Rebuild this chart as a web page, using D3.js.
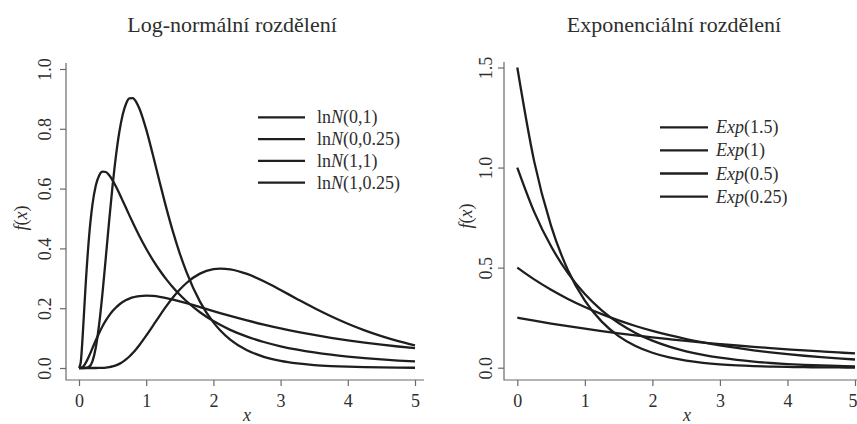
<!DOCTYPE html>
<html>
<head>
<meta charset="utf-8">
<script src="https://cdn.jsdelivr.net/npm/d3@7"></script>
<style>
  html, body { margin: 0; padding: 0; background: #fff; }
  svg { display: block; font-family: "Liberation Serif", "Times New Roman", serif; }
</style>
</head>
<body>
<svg id="chart" width="857" height="424"></svg>
<script>
// ---- Log-normal densities, sampled on a common x grid ----
const lnX = [0, 0.025, 0.05, 0.075, 0.1, 0.15, 0.2, 0.25, 0.3, 0.35, 0.4, 0.45, 0.5, 0.55, 0.6, 0.65,
  0.7, 0.75, 0.8, 0.85, 0.9, 1.0, 1.1, 1.2, 1.3, 1.4, 1.5, 1.6, 1.8, 2.0, 2.1, 2.25, 2.5, 2.75, 3.0,
  3.25, 3.5, 3.75, 4.0, 4.25, 4.5, 4.75, 5.0];
const lnN_0_1 = [0, 0.0177, 0.0898, 0.1857, 0.2816, 0.4398, 0.5463, 0.6105, 0.6442, 0.6569, 0.6555,
  0.6445, 0.6275, 0.6067, 0.5836, 0.5594, 0.5348, 0.5104, 0.4864, 0.4632, 0.4408, 0.3989, 0.3610,
  0.3270, 0.2965, 0.2693, 0.2450, 0.2233, 0.1865, 0.1569, 0.1443, 0.1276, 0.1049, 0.0870, 0.0727,
  0.0613, 0.0520, 0.0444, 0.0382, 0.0330, 0.0286, 0.0250, 0.0219];
const lnN_0_025 = [0, 0, 0, 0, 0.0002, 0.0040, 0.0224, 0.0684, 0.1465, 0.2515, 0.3721, 0.4953, 0.6105,
  0.7098, 0.7891, 0.8469, 0.8838, 0.9016, 0.9028, 0.8904, 0.8671, 0.7979, 0.7123, 0.6221, 0.5348,
  0.4544, 0.3829, 0.3206, 0.2221, 0.1526, 0.1264, 0.0952, 0.0595, 0.0375, 0.0238, 0.0153, 0.0099,
  0.0065, 0.0043, 0.0029, 0.0019, 0.0013, 0.0009];
const lnN_1_1 = [0, 0.0003, 0.0027, 0.0085, 0.0171, 0.0400, 0.0663, 0.0926, 0.1172, 0.1395, 0.1590,
  0.1759, 0.1903, 0.2024, 0.2124, 0.2205, 0.2271, 0.2322, 0.2360, 0.2388, 0.2406, 0.2420, 0.2409,
  0.2380, 0.2338, 0.2287, 0.2229, 0.2167, 0.2036, 0.1903, 0.1838, 0.1742, 0.1590, 0.1451, 0.1323,
  0.1208, 0.1104, 0.1010, 0.0926, 0.0850, 0.0781, 0.0719, 0.0663];
const lnN_1_025 = [0, 0, 0, 0, 0, 0, 0, 0, 0.0002, 0.0005, 0.0013, 0.0028, 0.0052, 0.0088, 0.0138,
  0.0205, 0.0287, 0.0386, 0.0501, 0.0629, 0.0770, 0.1080, 0.1411, 0.1746, 0.2067, 0.2363, 0.2623,
  0.2843, 0.3156, 0.3305, 0.3326, 0.3302, 0.3147, 0.2901, 0.2608, 0.2303, 0.2006, 0.1730, 0.1480,
  0.1259, 0.1067, 0.0901, 0.0759];
const lnLabels = [["ln", "N", "(0,1)"], ["ln", "N", "(0,0.25)"], ["ln", "N", "(1,1)"], ["ln", "N", "(1,0.25)"]];
const lnYTicks = [0, 0.2, 0.4, 0.6, 0.8, 1.0];

// ---- Exponential densities ----
const expX = [0, 0.25, 0.5, 0.75, 1.0, 1.25, 1.5, 1.75, 2.0, 2.25, 2.5, 2.75, 3.0, 3.25, 3.5, 3.75,
  4.0, 4.25, 4.5, 4.75, 5.0];
const exp_15 = [1.5, 1.0309, 0.7086, 0.4870, 0.3347, 0.2300, 0.1581, 0.1087, 0.0747, 0.0513, 0.0353,
  0.0243, 0.0167, 0.0115, 0.0079, 0.0054, 0.0037, 0.0026, 0.0018, 0.0012, 0.0008];
const exp_1 = [1.0, 0.7788, 0.6065, 0.4724, 0.3679, 0.2865, 0.2231, 0.1738, 0.1353, 0.1054, 0.0821,
  0.0639, 0.0498, 0.0388, 0.0302, 0.0235, 0.0183, 0.0143, 0.0111, 0.0087, 0.0067];
const exp_05 = [0.5, 0.4412, 0.3894, 0.3436, 0.3033, 0.2676, 0.2362, 0.2084, 0.1839, 0.1623, 0.1433,
  0.1264, 0.1116, 0.0985, 0.0869, 0.0767, 0.0677, 0.0597, 0.0527, 0.0465, 0.0410];
const exp_025 = [0.25, 0.2349, 0.2206, 0.2073, 0.1947, 0.1829, 0.1718, 0.1614, 0.1516, 0.1425, 0.1338,
  0.1257, 0.1181, 0.1109, 0.1042, 0.0979, 0.0920, 0.0864, 0.0812, 0.0763, 0.0716];
const expLabels = [["Exp", "(1.5)"], ["Exp", "(1)"], ["Exp", "(0.5)"], ["Exp", "(0.25)"]];
const expYTicks = [0, 0.5, 1.0, 1.5];

const xTicks = [0, 1, 2, 3, 4, 5];

const svg = d3.select("#chart");
const INK = "#1e1e1e";
const TEXT = "#2e2e2e";
const AXIS = "#6a6a6a";
const W = 857;

function panel(cfg) {
  const g = svg.append("g");
  const x = d3.scaleLinear().domain([0, 5]).range(cfg.xRange);
  const y = d3.scaleLinear().domain([0, cfg.yMax]).range(cfg.yRange);

  // L-shaped frame
  g.append("path")
    .attr("d", `M${cfg.box.left},${cfg.box.top}V${cfg.box.bottom}H${cfg.box.right}`)
    .attr("fill", "none").attr("stroke", AXIS).attr("stroke-width", 1.2);

  // x axis ticks + labels
  const xa = d3.axisBottom(x).tickValues(xTicks).tickFormat(d3.format("d")).tickSize(6).tickPadding(4);
  const gx = g.append("g").attr("transform", `translate(0,${cfg.box.bottom})`).call(xa);
  gx.select(".domain").remove();
  gx.selectAll(".tick line").attr("stroke", AXIS).attr("stroke-width", 1.2);
  gx.selectAll(".tick text").attr("fill", TEXT).attr("font-size", 18)
    .attr("font-family", "Liberation Serif").attr("dy", "0.95em");
  // keep a label that would run past the right edge inside the page
  gx.selectAll(".tick").each(function (d) {
    const px = x(d);
    if (px + 5 > W) {
      d3.select(this).select("text").attr("text-anchor", "end").attr("x", W - px);
    }
  });

  // y axis ticks + rotated labels
  const ya = d3.axisLeft(y).tickValues(cfg.yTicks).tickFormat(d3.format(".1f")).tickSize(6).tickPadding(0);
  const gy = g.append("g").attr("transform", `translate(${cfg.box.left},0)`).call(ya);
  gy.select(".domain").remove();
  gy.selectAll(".tick line").attr("stroke", AXIS).attr("stroke-width", 1.2);
  gy.selectAll(".tick text").attr("fill", TEXT).attr("font-size", 18)
    .attr("font-family", "Liberation Serif")
    .attr("x", null).attr("dy", null)
    .attr("text-anchor", "middle")
    .attr("transform", `translate(${cfg.yLabelX - cfg.box.left},0) rotate(-90)`)
    .attr("dominant-baseline", "central");

  // curves
  const line = d3.line().x(d => x(d[0])).y(d => y(d[1])).curve(d3.curveMonotoneX);
  cfg.series.forEach(s => {
    g.append("path")
      .datum(cfg.xs.map((v, i) => [v, s[i]]))
      .attr("d", line)
      .attr("fill", "none").attr("stroke", INK).attr("stroke-width", 2.3)
      .attr("stroke-linejoin", "round");
  });

  // title
  g.append("text").attr("x", cfg.titleX).attr("y", 32).attr("text-anchor", "middle")
    .attr("font-size", 22).attr("fill", TEXT).text(cfg.title);

  // axis titles
  g.append("text").attr("x", cfg.xLabelX).attr("y", 421).attr("text-anchor", "middle")
    .attr("font-size", 18).attr("font-style", "italic").attr("fill", TEXT).text("x");
  const fy = g.append("text")
    .attr("transform", `translate(${cfg.fLabel[0]},${cfg.fLabel[1]}) rotate(-90)`)
    .attr("text-anchor", "middle").attr("font-size", 18).attr("fill", TEXT);
  fy.append("tspan").attr("font-style", "italic").text("f");
  fy.append("tspan").text("(");
  fy.append("tspan").attr("font-style", "italic").text("x");
  fy.append("tspan").text(")");

  // legend
  const lg = g.append("g");
  cfg.labels.forEach((lab, i) => {
    const yy = cfg.legend.y0 + i * cfg.legend.dy;
    lg.append("line").attr("x1", cfg.legend.x1).attr("x2", cfg.legend.x2)
      .attr("y1", yy).attr("y2", yy).attr("stroke", INK).attr("stroke-width", 2.3);
    const t = lg.append("text").attr("x", cfg.legend.tx).attr("y", yy + 6)
      .attr("font-size", 18).attr("fill", TEXT);
    cfg.labelParts(t, lab);
  });
}

panel({
  xs: lnX,
  series: [lnN_0_1, lnN_0_025, lnN_1_1, lnN_1_025],
  labels: lnLabels,
  labelParts: (t, lab) => {
    t.append("tspan").text(lab[0]);
    t.append("tspan").attr("font-style", "italic").text(lab[1]);
    t.append("tspan").text(lab[2]);
  },
  yMax: 1.0, yTicks: lnYTicks,
  xRange: [79, 415], yRange: [368, 69],
  box: { left: 66, top: 63, bottom: 380, right: 424 },
  yLabelX: 45,
  title: "Log-normální rozdělení", titleX: 232,
  xLabelX: 247, fLabel: [27, 218],
  legend: { x1: 258, x2: 305, tx: 317, y0: 117.3, dy: 21.8 }
});

panel({
  xs: expX,
  series: [exp_15, exp_1, exp_05, exp_025],
  labels: expLabels,
  labelParts: (t, lab) => {
    t.append("tspan").attr("font-style", "italic").text(lab[0]);
    t.append("tspan").text(lab[1]);
  },
  yMax: 1.5, yTicks: expYTicks,
  xRange: [517.3, 855], yRange: [367.7, 67.5],
  box: { left: 504, top: 62, bottom: 380, right: 870 },
  yLabelX: 486,
  title: "Exponenciální rozdělení", titleX: 674,
  xLabelX: 687, fLabel: [472, 216],
  legend: { x1: 660, x2: 708, tx: 716, y0: 127.3, dy: 23.1 }
});
</script>
</body>
</html>
